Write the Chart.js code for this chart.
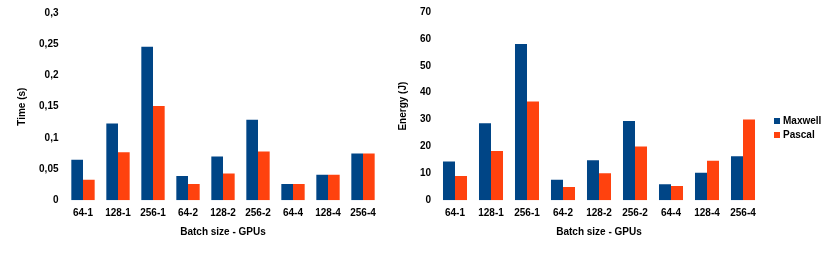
<!DOCTYPE html>
<html>
<head>
<meta charset="utf-8">
<script src="https://cdn.jsdelivr.net/npm/chart.js@4"></script>
<style>
  html, body { margin: 0; padding: 0; background: #fff; }
  #wrap { position: relative; width: 831px; height: 253px; }
  .box { position: absolute; top: 0; height: 253px; }
  #left { left: 0; width: 395px; }
  #right { left: 390px; width: 441px; }
</style>
</head>
<body>
<div id="wrap">
  <div class="box" id="left"><canvas id="timeChart"></canvas></div>
  <div class="box" id="right"><canvas id="energyChart"></canvas></div>
</div>
<script>
const categories = ['64-1', '128-1', '256-1', '64-2', '128-2', '256-2', '64-4', '128-4', '256-4'];

// Time (s)
const timeMaxwell = [0.065, 0.123, 0.246, 0.039, 0.070, 0.129, 0.026, 0.041, 0.075];
const timePascal = [0.033, 0.077, 0.151, 0.026, 0.043, 0.078, 0.026, 0.041, 0.075];
const timeTickLabels = ['0', '0,05', '0,1', '0,15', '0,2', '0,25', '0,3'];

// Energy (J)
const energyMaxwell = [14.4, 28.6, 58.1, 7.6, 14.9, 29.5, 6.0, 10.2, 16.4];
const energyPascal = [9.0, 18.3, 36.7, 4.9, 10.1, 20.0, 5.3, 14.7, 30.0];
const energyTickLabels = ['0', '10', '20', '30', '40', '50', '60', '70'];

const BLUE = '#004586';
const RED = '#ff420e';
const font = { family: '"Liberation Sans", Arial, sans-serif', size: 10, weight: 'bold' };

Chart.defaults.color = '#000';
Chart.defaults.font = font;
Chart.defaults.animation = false;

// small legend to the right of the plot area, drawn from the datasets
const sideLegend = {
  id: 'sideLegend',
  afterDraw(chart, args, opts) {
    if (!opts.show) return;
    const ctx = chart.ctx;
    const area = chart.chartArea;
    ctx.save();
    ctx.font = 'bold 10px "Liberation Sans", Arial, sans-serif';
    ctx.textBaseline = 'middle';
    ctx.fillStyle = '#000';
    chart.data.datasets.forEach((ds, i) => {
      const x = area.right + opts.gap;
      const y = area.top + opts.top + i * opts.spacing;
      ctx.fillStyle = ds.backgroundColor;
      ctx.fillRect(x, y - 3, 6, 6);
      ctx.fillStyle = '#000';
      ctx.fillText(ds.label, x + 9, y);
    });
    ctx.restore();
  }
};

function makeChart(canvas, opts) {
  return new Chart(canvas, {
    type: 'bar',
    data: {
      labels: categories,
      datasets: [
        { label: 'Maxwell', data: opts.maxwell, backgroundColor: BLUE },
        { label: 'Pascal', data: opts.pascal, backgroundColor: RED }
      ]
    },
    plugins: [sideLegend],
    options: {
      responsive: true,
      maintainAspectRatio: false,
      categoryPercentage: 0.667,
      barPercentage: 1,
      layout: { padding: opts.padding },
      plugins: {
        legend: { display: false },
        tooltip: { enabled: false },
        sideLegend: opts.legend
      },
      scales: {
        x: {
          grid: { display: false, drawTicks: false },
          border: { display: false },
          ticks: { padding: 7, font: font },
          title: { display: true, text: 'Batch size - GPUs', font: font, padding: { top: 6, bottom: 15 } },
          afterFit: function(scale) { scale.height = opts.xHeight; }
        },
        y: {
          min: 0,
          max: opts.max,
          grid: { display: false, drawTicks: false },
          border: { display: false },
          ticks: {
            stepSize: opts.step,
            padding: opts.tickPad,
            font: font,
            callback: function(value, index) {
              return opts.tickLabels[index];
            }
          },
          title: { display: true, text: opts.title, font: font, padding: { top: opts.titlePad, bottom: 0 } },
          afterFit: function(scale) { scale.width = opts.yWidth; }
        }
      }
    }
  });
}

makeChart(document.getElementById('timeChart'), {
  maxwell: timeMaxwell,
  pascal: timePascal,
  max: 0.3,
  step: 0.05,
  tickLabels: timeTickLabels,
  title: 'Time (s)',
  titlePad: 16,
  tickPad: 7,
  yWidth: 65.5,
  xHeight: 52.7,
  padding: { left: 0, right: 14.5, top: 10.3, bottom: 0 },
  legend: { show: false }
});

makeChart(document.getElementById('energyChart'), {
  maxwell: energyMaxwell,
  pascal: energyPascal,
  max: 70,
  step: 10,
  tickLabels: energyTickLabels,
  title: 'Energy (J)',
  titlePad: 7,
  tickPad: 6,
  yWidth: 47,
  xHeight: 52.7,
  padding: { left: 0, right: 70, top: 10.3, bottom: 0 },
  legend: { show: true, gap: 13, top: 109, spacing: 14 }
});
</script>
</body>
</html>
